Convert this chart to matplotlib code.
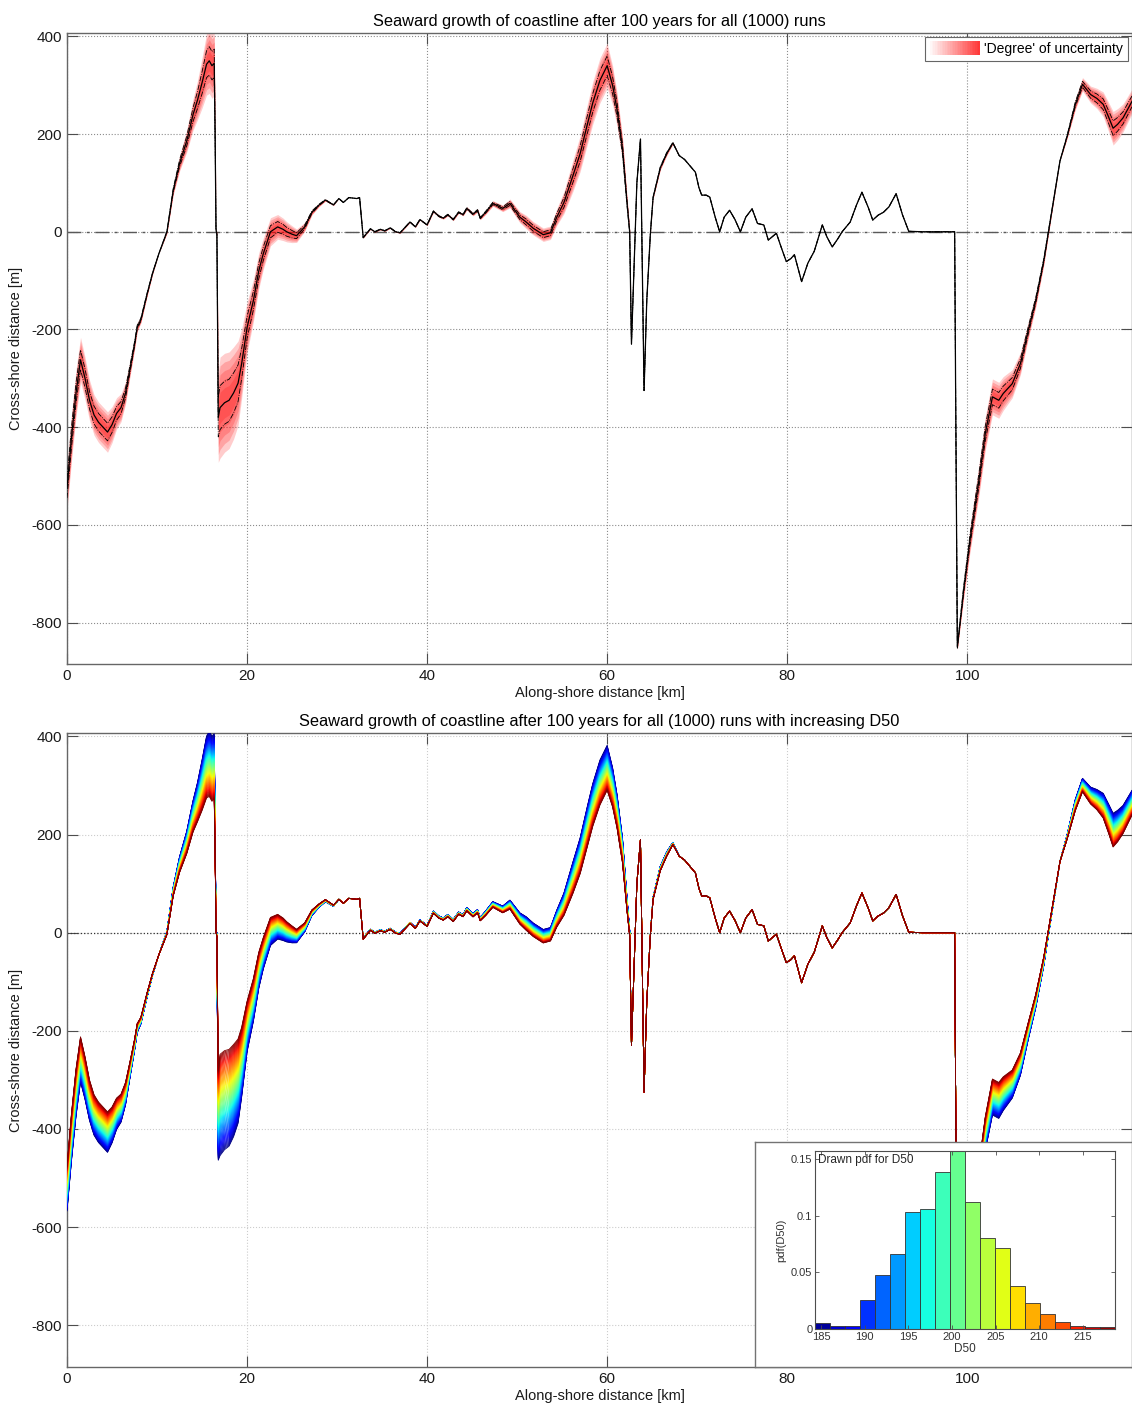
import numpy as np
import matplotlib.pyplot as plt
from matplotlib.patches import Rectangle, Patch
from matplotlib.legend_handler import HandlerBase

plt.rcParams['font.family'] = ['Liberation Sans', 'DejaVu Sans']
plt.rcParams['axes.unicode_minus'] = False

# mean coastline position after 100 years
along_km = [0.0, 0.5, 1.0, 1.5, 2.0, 2.5, 3.0, 3.5, 4.0, 4.5, 5.0, 5.5, 6.0, 6.5, 7.0, 7.5, 7.8, 8.2,
            8.9, 9.5, 10.2, 11.1, 11.8, 12.5, 13.3, 14.0, 14.5, 15.0, 15.5, 15.8, 16.1, 16.35, 16.45,
            16.55, 16.65, 16.8, 17.0, 17.5, 18.0, 18.5, 19.0, 19.4, 20.0, 20.7, 21.3, 21.8, 22.6, 23.4,
            24.0, 24.4, 25.0, 25.5, 26.4, 27.2, 28.0, 28.7, 29.6, 30.2, 30.7, 31.3, 32.2, 32.5, 32.9,
            33.7, 34.2, 34.8, 35.3, 35.9, 36.5, 37.0, 38.1, 38.7, 39.2, 40.0, 40.7, 41.3, 41.8, 42.3,
            42.9, 43.5, 44.0, 44.4, 45.1, 45.6, 45.9, 46.5, 47.3, 48.4, 49.2, 50.3, 51.0, 51.8, 52.9,
            53.7, 54.4, 55.2, 56.2, 57.0, 57.8, 58.4, 59.2, 60.0, 60.6, 61.1, 61.7, 62.2, 62.5, 62.7,
            63.3, 63.7, 64.1, 64.4, 64.8, 65.1, 65.9, 66.6, 67.3, 68.0, 68.6, 69.2, 69.8, 70.2, 70.5,
            71.0, 71.4, 72.0, 72.5, 73.0, 73.6, 74.2, 74.8, 75.4, 76.1, 76.7, 77.4, 77.9, 78.8, 79.3,
            79.9, 80.4, 80.8, 81.6, 82.3, 83.0, 83.9, 84.4, 85.0, 85.6, 86.1, 87.0, 87.7, 88.3, 89.0,
            89.5, 90.1, 90.7, 91.3, 92.1, 92.8, 93.5, 95.0, 98.6, 98.7, 98.9, 99.6, 100.3, 101.3,
            102.0, 102.8, 103.5, 104.0, 105.0, 105.9, 106.8, 107.6, 108.5, 109.0, 110.3, 111.1, 112.0,
            112.8, 113.7, 114.4, 115.1, 115.7, 116.2, 116.7, 117.3, 118.3]
shore_m = [-525, -420, -330, -262, -300, -345, -375, -390, -400, -410, -395, -372, -360, -330, -280, -230, -195, -180,
           -127, -85, -45, 0, 85, 140, 186, 240, 270, 305, 343, 350, 340, 345, 200,
           5, -5, -380, -360, -350, -345, -330, -310, -270, -196, -141, -80, -45, 0, 10,
           5, 0, -5, -8, 10, 40, 55, 65, 55, 68, 60, 70, 68, 70, -12,
           6, 0, 5, 2, 8, 0, -2, 20, 10, 25, 14, 42, 32, 28, 35,
           25, 40, 35, 48, 36, 44, 28, 40, 58, 48, 58, 30, 20, 7, -6,
           -2, 30, 60, 115, 160, 220, 264, 310, 340, 300, 250, 170, 60, 0, -230,
           100, 190, -325, -141, -4, 70, 131, 160, 182, 156, 148, 135, 122, 90, 75,
           75, 71, 30, 0, 30, 44, 25, 0, 30, 47, 17, 14, -17, -3, -30,
           -61, -55, -47, -102, -64, -40, 14, -10, -31, -15, 0, 20, 55, 81, 50,
           24, 34, 40, 51, 78, 35, 1, 0, 0, -300, -850, -733, -631, -508,
           -413, -338, -345, -331, -311, -270, -200, -141, -59, -2, 145, 196, 261,
           302, 281, 273, 261, 235, 212, 220, 233, 267]
# signed spread: positive means small D50 gives a more seaward coastline
spread_m = [-40, -42, -42, -40, -38, -36, -36, -36, -36, -36, -32, -28, -25, -20, -14, -10, -8, -6,
            -4, -2, 0, 3, 8, 14, 20, 28, 35, 45, 55, 58, 58, 58, 30,
            3, 3, -80, -90, -88, -86, -82, -75, -62, -45, -38, -32, -28, -25, -22,
            -20, -18, -15, -12, -8, -5, -3, -2, -1, 0, 0, 0, 0, 0, 1,
            1, 1, 1, 1, 1, 1, 1, 1, 1, 1, 1, 2, 2, 2, 2,
            2, 2, 2, 3, 3, 3, 3, 4, 5, 6, 8, 10, 12, 12, 12,
            12, 15, 20, 28, 32, 36, 38, 40, 40, 35, 30, 22, 12, 5, 0,
            0, 0, 0, 0, 1, 2, 4, 4, 2, 0, 0, 0, 0, 0, 0,
            0, 0, 0, 0, 0, 0, 0, 0, 0, 0, 0, 0, 0, 0, 0,
            0, 0, 0, 0, 0, 0, 0, 0, 0, 0, 0, 0, 0, 0, 0,
            0, 0, 0, 0, 0, 0, 0, 0, 0, 0, -5, -15, -22, -28,
            -30, -32, -32, -30, -25, -20, -15, -12, -8, -5, 0, 4, 10,
            12, 15, 18, 22, 26, 30, 28, 25, 22]

# drawn pdf of D50 (inset histogram)
d50_lo = 184.3
d50_width = 1.72
pdf_d50 = [0.0053, 0.003, 0.003, 0.0253, 0.0476, 0.066, 0.103, 0.106, 0.139, 0.157,
           0.112, 0.080, 0.0715, 0.038, 0.023, 0.013, 0.006, 0.003, 0.0015, 0.0015]
d50_ref = 200.0
d50_scale = 15.0

x = np.array(along_km, dtype=float)
y = np.array(shore_m, dtype=float)
s = np.array(spread_m, dtype=float)
abs_s = np.abs(s)
edges = d50_lo + d50_width * np.arange(len(pdf_d50) + 1)

cmap = plt.get_cmap('jet')
norm = plt.Normalize(edges[0], edges[-1])


class GradientHandler(HandlerBase):
    def create_artists(self, legend, orig_handle, xdescent, ydescent, width, height, fontsize, trans):
        n = 30
        out = []
        for i in range(n):
            r = Rectangle((-xdescent + i * width / n, -ydescent - 0.25 * height), width / n, height * 1.5,
                          facecolor=(1, 0, 0), alpha=0.03 + 0.75 * i / (n - 1), edgecolor='none',
                          transform=trans)
            out.append(r)
        return out


def style(ax, gridls, gridcol):
    ax.set_xlim(0, 118.3)
    ax.set_ylim(-885, 407)
    ax.set_xticks(range(0, 101, 20))
    ax.set_yticks(range(-800, 401, 200))
    ax.grid(True, ls=gridls, color=gridcol, lw=0.8)
    ax.set_axisbelow(True)
    ax.tick_params(direction='in', top=True, right=True, length=8, width=0.8,
                   color='0.3', labelsize=11, labelcolor='0.1')
    for sp in ax.spines.values():
        sp.set_color('0.4')
        sp.set_linewidth(1.0)
    ax.set_xlabel('Along-shore distance [km]', fontsize=10.5, labelpad=2, color='0.1')
    ax.set_ylabel('Cross-shore distance [m]', fontsize=10.5, labelpad=6, color='0.1')


fig = plt.figure(figsize=(11.32, 14.09), dpi=100)

# top panel: mean with uncertainty band
ax1 = fig.add_axes([0.0592, 0.5287, 0.9408, 0.4479])
style(ax1, ':', '0.55')
ax1.axhline(0, color='0.35', ls=(0, (10, 4, 2, 4)), lw=1.0, zorder=1)
for k in [1.15, 0.95, 0.75, 0.55, 0.35]:
    ax1.fill_between(x, y - k * abs_s, y + k * abs_s, color='red', alpha=0.2, lw=0, zorder=2)
ax1.plot(x, y + 0.5 * abs_s, color='k', ls='-.', lw=0.6, zorder=3)
ax1.plot(x, y - 0.5 * abs_s, color='k', ls='-.', lw=0.6, zorder=3)
ax1.plot(x, y, color='k', lw=0.9, zorder=4)
ax1.set_title('Seaward growth of coastline after 100 years for all (1000) runs', fontsize=11.8, pad=5)
leg = ax1.legend([Patch()], ["'Degree' of uncertainty"], handler_map={Patch: GradientHandler()},
                 loc='upper right', fancybox=False, edgecolor='0.4', framealpha=1, fontsize=10,
                 handlelength=3.6, borderpad=0.35, borderaxespad=0.3, handletextpad=0.3)
leg.get_frame().set_linewidth(0.8)

# bottom panel: every run coloured by its D50
ax2 = fig.add_axes([0.0592, 0.0298, 0.9408, 0.45])
style(ax2, ':', '0.8')
ax2.axhline(0, color='0.2', ls=':', lw=0.9, zorder=1)
d50_runs = np.linspace(edges[0], edges[-1], 90)  # drawing resolution of the ensemble
for d in d50_runs:
    ax2.plot(x, y + s * (d50_ref - d) / d50_scale, color=cmap(norm(d)), lw=0.6, zorder=3)
ax2.set_title('Seaward growth of coastline after 100 years for all (1000) runs with increasing D50',
              fontsize=11.8, pad=5)

# inset histogram
box = fig.add_axes([0.667, 0.0298, 0.333, 0.1597])
box.set_xticks([])
box.set_yticks([])
for sp in box.spines.values():
    sp.set_color('0.45')
    sp.set_linewidth(1.0)

ins = fig.add_axes([0.720, 0.0568, 0.265, 0.1263])
centers = edges[:-1] + d50_width / 2
ins.bar(edges[:-1], pdf_d50, width=d50_width, align='edge', color=cmap(norm(centers)),
        edgecolor='0.2', lw=0.6)
ins.set_xlim(edges[0], edges[-1])
ins.set_ylim(0, 0.1573)
ins.set_xticks(range(185, 216, 5))
ins.set_yticks([0, 0.05, 0.1, 0.15])
ins.set_yticklabels(['0', '0.05', '0.1', '0.15'])
ins.tick_params(direction='in', top=True, right=True, length=3, width=0.6, labelsize=8,
                color='0.3', labelcolor='0.2', pad=2)
for sp in ins.spines.values():
    sp.set_color('0.3')
    sp.set_linewidth(0.8)
ins.set_xlabel('D50', fontsize=8.5, labelpad=1, color='0.2')
ins.set_ylabel('pdf(D50)', fontsize=8, labelpad=3, color='0.2')
ins.text(0.01, 0.985, 'Drawn pdf for D50', transform=ins.transAxes, va='top', ha='left',
         fontsize=8.5, color='0.15')

fig.savefig('out.png', dpi=100)
